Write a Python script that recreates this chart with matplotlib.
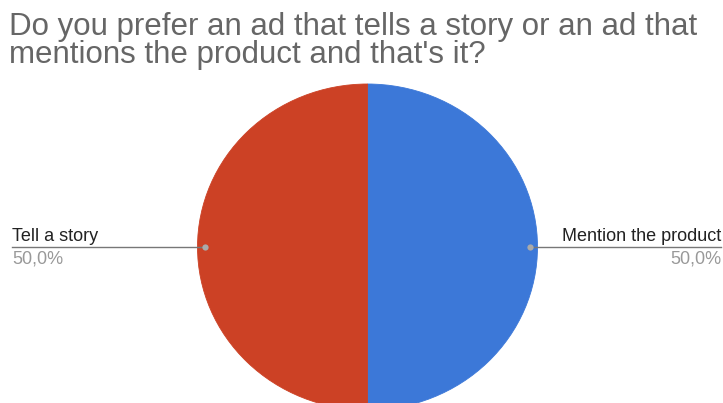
import matplotlib.pyplot as plt

labels = ['Mention the product', 'Tell a story']
values = [50, 50]
colors = ['#3c78d8', '#cc4125']
title = "Do you prefer an ad that tells a story or an ad that\nmentions the product and that's it?"

fig = plt.figure(figsize=(7.23, 4.03), dpi=100)
ax = fig.add_axes([0, 0, 1, 1])

wedges, _ = ax.pie(values, colors=colors, startangle=90, counterclock=False,
                   radius=1, center=(0, 0))
# no seam between the halves
for w in wedges:
    w.set_edgecolor(w.get_facecolor())
    w.set_linewidth(0.6)

# pixel scale: 170 px per unit horizontally, 163 px vertically
ax.set_aspect('auto')
ax.set_xlim(-367.5 / 170, (723 - 367.5) / 170)
ax.set_ylim(-156 / 163, 247 / 163)
ax.axis('off')

# leader lines and labels in figure pixels
def px(x, y):
    return x / 723, 1 - y / 403

pct = ['{:.1f}%'.format(v).replace('.', ',') for v in values]
font = ['Liberation Sans', 'DejaVu Sans']
ly = 246.5

# left label
fig.add_artist(plt.Line2D([px(12, 0)[0], px(205, 0)[0]], [px(0, ly)[1]] * 2,
                          color='#777777', lw=1))
fig.text(*px(12, 241), labels[1], fontsize=13, color='#222222', family=font,
         ha='left', va='baseline')
fig.text(*px(12, 264), pct[1], fontsize=13, color='#999999', family=font,
         ha='left', va='baseline')

# right label
fig.add_artist(plt.Line2D([px(530, 0)[0], px(721, 0)[0]], [px(0, ly)[1]] * 2,
                          color='#777777', lw=1))
fig.text(*px(721, 241), labels[0], fontsize=13, color='#222222', family=font,
         ha='right', va='baseline')
fig.text(*px(721, 264), pct[0], fontsize=13, color='#999999', family=font,
         ha='right', va='baseline')

for x in (205, 530):
    fig.add_artist(plt.Line2D([px(x, 0)[0]], [px(0, ly)[1]], marker='o',
                              ms=4.5, color='#aaaaaa', mec='none'))

fig.text(*px(9, 12), title, fontsize=22.5, color='#666666', family=font,
         ha='left', va='top', linespacing=0.92)

fig.savefig('out.png', dpi=100)
